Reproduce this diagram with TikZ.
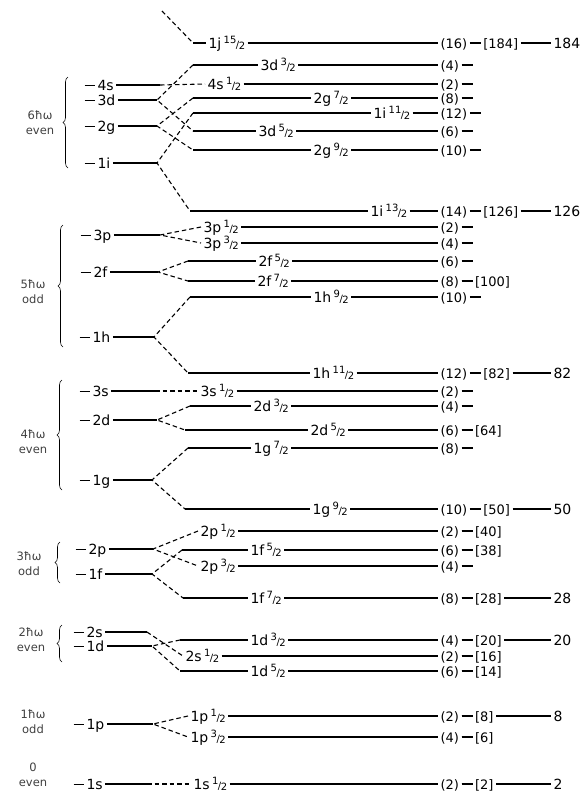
\documentclass[tikz,border=0pt]{standalone}
\usepackage{fontspec}
\setmainfont{DejaVu Sans}
\usetikzlibrary{decorations.pathreplacing}
\newcommand\hf[2]{{\fontsize{10}{10}\selectfont\raisebox{.45em}{#1}\kern-.5pt/\kern-.5pt\raisebox{-.1em}{#2}}}
\newcommand\lvlrule{\rule[4.4pt]{10pt}{1.1pt}\hspace{3pt}}

\begin{document}
\begin{tikzpicture}[x=1pt,y=-1pt,line width=1.1pt,font=\fontsize{14}{16}\selectfont,
    lvl/.style={anchor=west,inner xsep=2pt,inner ysep=0pt,text height=10pt,text depth=0pt},
    cnt/.style={lvl,font=\fontsize{13}{15}\selectfont},
    split/.style={dash pattern=on 4.5pt off 3pt},
    grp/.style={font=\fontsize{11.5}{15}\selectfont,align=center,text=black!75},
    brc/.style={decorate,decoration={brace,amplitude=5pt},line width=.6pt}]
  \useasboundingbox (0,0) rectangle (587,795);
  \foreach \nm/\yy/\xx/\sh in {L4s/85/82/4s,L3d/100/82/3d,L2g/126/82/2g,L1i/163/82/1i,
      L3p/235/78/3p,L2f/272/78/2f,L1h/337/77/1h,L3s/391/77/3s,L2d/420/77/2d,L1g/480/77/1g,
      L2p/549/73/2p,L1f/574/73/1f,L2s/632/71/2s,L1d/646/71/1d,L1p/724/71/1p,L1s/784/71/1s}
    \node[lvl] (\nm) at (\xx,\yy) {\lvlrule\sh};
  \foreach \nm/\xx/\yy in {top/162/11,c4s/160/85,v3d/157/100,v2g/157/126,v1i/157/163,
      v3p/160/235,v2f/158/272,v1h/154/337,c3s/155/391,v2d/157/420,v1g/152/480,
      v2p/153/549,v1f/152/574,c2s/147/632,v1d/152/646,v1p/153/724,c1s/147/784}
    \coordinate (\nm) at (\xx,\yy);
  \foreach \a/\b in {L4s/c4s,L3d/v3d,L2g/v2g,L1i/v1i,L3p/v3p,L2f/v2f,L1h/v1h,L3s/c3s,
      L2d/v2d,L1g/v1g,L2p/v2p,L1f/v1f,L2s/c2s,L1d/v1d,L1p/v1p,L1s/c1s}
    \draw (\a.east) -- (\b);
  \foreach \nm/\yy/\sx/\lx/\sh/\jn/\cn in {j15/43/193/206/1j/15/16,d3a/65/193/258/3d/3/4,
      s4/84/205/205/4s/1/2,g7/98/193/311/2g/7/8,i11/113/193/371/1i/11/12,
      d5a/131/193/256/3d/5/6,g9/150/193/311/2g/9/10,i13/211/190/368/1i/13/14,
      p1c/227/201/201/3p/1/2,p3c/243/201/201/3p/3/4,f5b/261/188/256/2f/5/6,
      f7b/281/188/255/2f/7/8,h9/297/190/311/1h/9/10,h11/373/188/310/1h/11/12,
      s3/391/198/198/3s/1/2,d3b/406/190/251/2d/3/4,d5b/430/185/308/2d/5/6,
      g7b/448/188/251/1g/7/8,g9b/509/185/310/1g/9/10,p1b/531/198/198/2p/1/2,
      f5/550/182/248/1f/5/6,p3b/566/198/198/2p/3/4,f7/598/183/248/1f/7/8,
      d3/640/180/248/1d/3/4,s2/656/183/183/2s/1/2,d5/671/180/248/1d/5/6,
      p1/716/188/188/1p/1/2,p3/737/188/188/1p/3/4,s1/784/191/191/1s/1/2}{
    \coordinate (\nm-a) at (\sx,\yy);
    \node[lvl] (\nm) at (\lx,\yy) {\sh\,\hf{\jn}{2}};
    \node[cnt] (\nm-c) at (438,\yy) {(\cn)};
    \coordinate (\nm-t) at ([xshift=11pt]\nm-c.east);
    \draw (\nm-a) -- (\nm.west) (\nm.east) -- (\nm-c.west) (\nm-c.east) -- (\nm-t);
  }
  \foreach \v/\u/\d in {v3d/d3a/d5a,v2g/g7/g9,v1i/i11/i13,v3p/p1c/p3c,v2f/f5b/f7b,
      v1h/h9/h11,v2d/d3b/d5b,v1g/g7b/g9b,v2p/p1b/p3b,v1f/f5/f7,v1d/d3/d5,v1p/p1/p3}
    \draw[split] (\u-a) -- (\v) -- (\d-a);
  \foreach \v/\u in {top/j15,c4s/s4,c3s/s3,c2s/s2,c1s/s1}
    \draw[split] (\v) -- (\u-a);
  \foreach \nm/\mg in {j15/184,i13/126,f7b/100,h11/82,d5b/64,g9b/50,p1b/40,f5/38,
      f7/28,d3/20,s2/16,d5/14,p1/8,p3/6,s1/2}{
    \node[cnt] (\nm-m) at ([xshift=11pt]\nm-c.east) {[\mg]};
    \draw (\nm-c.east) -- (\nm-m.west);
  }
  \foreach \nm/\mg in {j15/184,i13/126,h11/82,g9b/50,f7/28,d3/20,p1/8,s1/2}{
    \node[lvl] (\nm-f) at (551,0 |- \nm-m) {\mg};
    \draw (\nm-m.east) -- (\nm-f.west);
  }
  \draw[brc] (68,168) -- (68,77);
  \draw[brc] (63,347) -- (63,225);
  \draw[brc] (62,490) -- (62,380);
  \draw[brc] (60,583) -- (60,542);
  \draw[brc] (62,662) -- (62,625);
  \node[grp] (g6) at (40,123) {6ħω\\even};
  \node[grp] (g5) at (33,292) {5ħω\\odd};
  \node[grp] (g4) at (33,442) {4ħω\\even};
  \node[grp] (g3) at (29,564) {3ħω\\odd};
  \node[grp] (g2) at (31,640) {2ħω\\even};
  \node[grp] (g1) at (33,722) {1ħω\\odd};
  \node[grp] (g0) at (33,775) {0\\even};
\end{tikzpicture}
\end{document}
